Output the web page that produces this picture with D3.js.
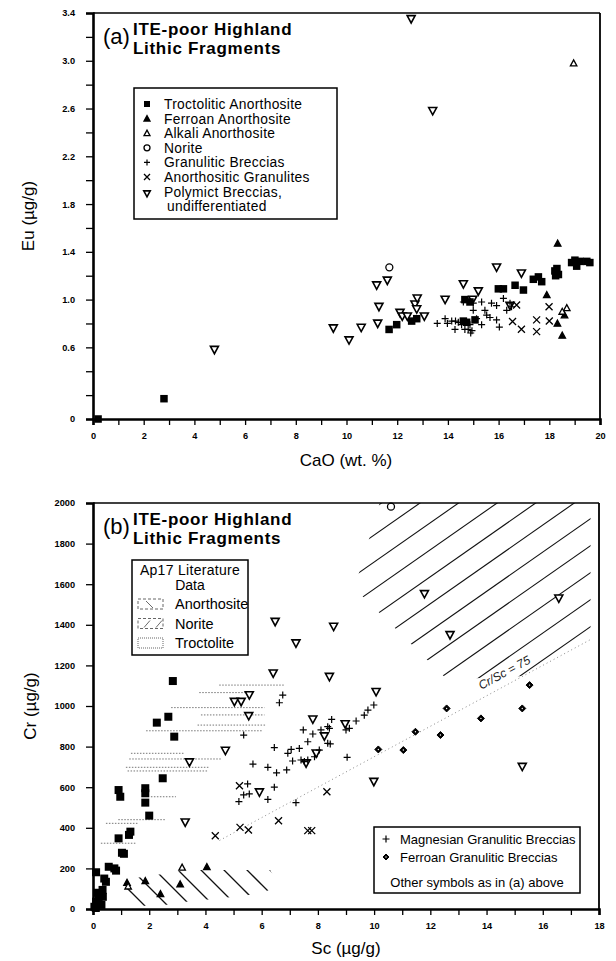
<!DOCTYPE html>
<html><head><meta charset="utf-8">
<script src="https://cdn.jsdelivr.net/npm/d3@7"></script>
<style>body{margin:0;background:#fff}</style>
</head><body>
<script>
// ---------------- Panel (a): CaO (wt.%) vs Eu (ug/g) ----------------
const aTroct = [[0.2,0.0],[2.8,0.17],[11.68,0.75],[11.98,0.79],[12.57,0.82],[12.77,0.84],[14.67,1.0],[14.87,0.98],[14.61,0.82],[14.74,0.81],[15.07,0.83],[15.99,1.09],[16.19,1.09],[16.65,1.12],[16.98,1.08],[17.37,1.17],[17.57,1.19],[17.7,1.15],[18.22,1.24],[18.36,1.21],[18.3,1.26],[18.25,1.20],[18.88,1.31],[19.08,1.28],[19.21,1.32],[19.48,1.32],[19.6,1.31],[19.01,1.33]];
const aFerroan = [[18.33,1.47],[17.9,1.04],[18.32,0.80],[18.51,0.70],[18.6,0.87]];
const aAlkali = [[18.96,2.98],[18.69,0.93],[18.51,0.90]];
const aNorite = [[11.69,1.27]];
const aGranBx = [[13.58,0.80],[13.89,0.84],[13.98,0.80],[14.15,0.82],[14.28,0.75],[14.41,0.81],[14.54,0.79],[14.67,0.75],[14.8,0.75],[14.87,0.79],[14.61,0.98],[15.0,0.97],[15.0,0.91],[15.33,0.98],[15.46,0.91],[15.53,0.87],[15.33,0.79],[15.66,0.85],[15.72,0.97],[15.92,0.95],[15.92,0.83],[16.03,0.77],[16.19,1.01],[16.32,0.91],[16.45,0.97],[16.51,0.94],[15.13,0.84],[14.9,0.72],[14.95,0.74],[14.3,0.82]];
const aAnorGran = [[16.71,0.955],[16.55,0.816],[16.9,0.752],[17.5,0.83],[17.5,0.732],[17.99,0.94],[18.0,0.82]];
const aPolymict = [[4.79,0.58],[9.48,0.76],[10.1,0.66],[10.58,0.765],[11.23,0.80],[11.28,0.94],[11.19,1.12],[11.61,1.16],[12.11,0.89],[12.2,0.86],[12.4,0.86],[12.7,0.96],[12.79,1.01],[12.77,0.92],[13.07,0.86],[13.89,1.0],[14.61,1.13],[14.98,1.0],[15.2,1.07],[15.92,1.27],[16.9,1.22],[12.55,3.35],[13.4,2.58],[16.45,0.95]];
const aXTicks = d3.range(0, 21, 1);
const aXLabels = [0,2,4,6,8,10,12,14,16,18,20];
const aYTicks = d3.range(0, 3.41, 0.2);
const aYLabels = [0,0.6,1.0,1.4,1.8,2.2,2.6,3.0,3.4];
const aLegend = ["Troctolitic Anorthosite","Ferroan Anorthosite","Alkali Anorthosite","Norite","Granulitic Breccias","Anorthositic Granulites","Polymict Breccias,","undifferentiated"];

// ---------------- Panel (b): Sc (ug/g) vs Cr (ug/g) ----------------
const bTroct = [[2.84,1123],[2.68,947],[2.27,918],[2.89,849],[2.48,644],[1.86,595],[1.86,570],[1.86,524],[2.0,460],[0.91,586],[0.97,553],[1.33,381],[1.28,365],[0.91,348],[1.03,277],[1.1,272],[0.56,208],[0.76,200],[0.82,189],[0.11,181],[0.46,134],[0.4,150],[0.34,94],[0.23,69],[0.11,36],[0.05,11],[0.35,60],[0.17,80],[0.1,5],[0.3,20],[0.2,45]];
const bFerroan = [[4.05,208],[1.21,130],[1.86,139],[2.4,74],[3.1,123]];
const bAlkali = [[1.25,112],[3.17,205]];
const bNorite = [[10.6,1982]];
const bPolymict = [[6.41,1161],[8.41,1144],[5.56,1054],[5.03,1021],[5.27,1021],[5.54,951],[7.82,934],[8.97,911],[4.71,780],[3.43,723],[5.92,575],[3.28,427],[7.58,718],[7.94,767],[8.23,851],[9.99,627],[15.27,701],[8.56,1391],[10.07,1070],[11.79,1552],[12.7,1350],[16.57,1530],[6.48,1415],[7.22,1309]];
const bMagGran = [[6.75,1054],[6.63,1016],[5.36,857],[6.45,795],[7.05,786],[7.34,791],[6.93,767],[5.69,714],[6.22,698],[6.53,671],[6.89,685],[7.1,729],[7.4,734],[7.64,734],[7.48,882],[7.64,824],[7.82,862],[8.11,882],[8.35,898],[8.49,934],[8.44,813],[8.05,783],[7.88,750],[5.5,616],[5.36,562],[5.56,567],[5.19,529],[6.45,600],[6.22,540],[7.22,524],[9.04,747],[9.36,926],[9.0,882],[8.41,890],[9.12,890],[9.65,955],[9.78,980],[9.99,1005],[7.52,726],[8.35,816]];
const bFerGran = [[12.58,988],[15.27,988],[13.8,939],[11.47,873],[12.36,857],[10.15,786],[11.04,783],[15.53,1103]];
const bAnorGran = [[5.21,607],[4.35,361],[5.23,402],[5.53,389],[6.6,435],[7.64,386],[7.78,386],[8.32,578]];
// literature fields
const noriteField = [[9.3,1580],[10.2,2000],[17.7,2000],[17.7,1270],[15.8,1150],[12.6,1130]];
const anorthField = [[1.0,70],[1.4,150],[2.6,175],[3.3,192],[6.3,192],[6.6,115],[6.0,78],[4.5,52],[3.5,40],[2.5,18],[1.6,15]];
const troctLines = [[4.49,6.81,1103],[3.78,5.56,1066],[2.78,6.1,992],[3.84,6.1,956],[3.72,6.16,906],[1.89,6.04,878],[1.35,3.25,767],[1.29,4.56,739],[1.17,4.14,698],[1.23,4.08,680],[2.06,2.95,553],[0.9,2.6,440],[0.46,1.59,422],[0.28,1.53,324]];
const crScRatio = 75;
const ratioRange = [4.5, 17.7];
const bXTicks = d3.range(0, 19, 1);
const bXLabels = [0,2,4,6,8,10,12,14,16,18];
const bYTicks = d3.range(0, 2001, 200);

const FONT = "'Liberation Sans', Arial, Helvetica, sans-serif";
const svg = d3.select('body').append('svg').attr('width',616).attr('height',961)
  .style('font-family', FONT);

// ---------- symbol helpers ----------
function drawMarks(g, data, type, x, y, s) {
  const e = g.append('g').selectAll(null).data(data).enter();
  const cx = d => x(d[0]), cy = d => y(d[1]);
  if (type === 'sq') {
    e.append('rect').attr('x', d => cx(d)-s/2).attr('y', d => cy(d)-s/2)
      .attr('width', s).attr('height', s).attr('fill', '#000');
  } else if (type === 'tri' || type === 'otri') {
    e.append('path').attr('d', d => `M${cx(d)-s/2},${cy(d)+s*0.42}L${cx(d)+s/2},${cy(d)+s*0.42}L${cx(d)},${cy(d)-s*0.5}Z`)
      .attr('fill', type==='tri' ? '#000' : '#fff').attr('stroke', '#000').attr('stroke-width', 1.3);
  } else if (type === 'dtri') {
    e.append('path').attr('d', d => `M${cx(d)-s/2},${cy(d)-s*0.42}L${cx(d)+s/2},${cy(d)-s*0.42}L${cx(d)},${cy(d)+s*0.5}Z`)
      .attr('fill', '#fff').attr('stroke', '#000').attr('stroke-width', 1.6);
  } else if (type === 'circ') {
    e.append('circle').attr('cx', cx).attr('cy', cy).attr('r', s/2)
      .attr('fill', '#fff').attr('stroke', '#000').attr('stroke-width', 1.3);
  } else if (type === 'plus') {
    e.append('path').attr('d', d => `M${cx(d)-s/2},${cy(d)}H${cx(d)+s/2}M${cx(d)},${cy(d)-s/2}V${cy(d)+s/2}`)
      .attr('stroke', '#000').attr('stroke-width', 1.2);
  } else if (type === 'x') {
    e.append('path').attr('d', d => `M${cx(d)-s/2},${cy(d)-s/2}L${cx(d)+s/2},${cy(d)+s/2}M${cx(d)-s/2},${cy(d)+s/2}L${cx(d)+s/2},${cy(d)-s/2}`)
      .attr('stroke', '#000').attr('stroke-width', 1.3);
  } else if (type === 'dia') {
    e.append('path').attr('d', d => `M${cx(d)},${cy(d)-s/2}L${cx(d)+s/2},${cy(d)}L${cx(d)},${cy(d)+s/2}L${cx(d)-s/2},${cy(d)}Z`)
      .attr('fill', '#000').attr('stroke', '#000').attr('stroke-width', 1).attr('stroke-linejoin', 'round');
    e.append('circle').attr('cx', cx).attr('cy', cy).attr('r', 0.7).attr('fill', '#fff');
  }
}
function symAt(g, type, px, py, s) {
  drawMarks(g, [[0,0]], type, () => px, () => py, s);
}

function frame(g, x, y, xTicks, xLabels, yTicks, yLabels, fmtY) {
  const [x0, x1] = x.range(), [y0, y1] = y.range();
  g.append('line').attr('x1', x0).attr('x2', x1).attr('y1', y1).attr('y2', y1).attr('stroke', '#000').attr('stroke-width', 1.6);
  g.append('line').attr('x1', x1).attr('x2', x1).attr('y1', y1).attr('y2', y0).attr('stroke', '#000').attr('stroke-width', 1.8);
  const ax = g.append('g').attr('transform', `translate(0,${y0})`)
    .call(d3.axisBottom(x).tickValues(xTicks).tickSize(6).tickPadding(7)
      .tickFormat(d => xLabels.includes(d) ? d3.format('d')(d) : ''));
  const ay = g.append('g').attr('transform', `translate(${x0},0)`)
    .call(d3.axisLeft(y).tickValues(yTicks).tickSize(7).tickPadding(11)
      .tickFormat(d => yLabels.some(v => Math.abs(v-d) < 1e-6) ? fmtY(d) : ''));
  [ax, ay].forEach(a => {
    a.select('.domain').attr('stroke-width', 2.6);
    a.selectAll('.tick line').attr('stroke-width', 1.3);
    a.selectAll('.tick text').attr('font-family', FONT).attr('font-size', 9.2).attr('font-weight', 'bold').attr('fill', '#000');
  });
}

// title block
function title(g, letter, x0, yTop) {
  g.append('text').attr('x', x0).attr('y', yTop + 31).attr('font-size', 22).text(letter);
  g.append('text').attr('x', x0 + 30).attr('y', yTop + 22).attr('font-size', 17).attr('letter-spacing', 0.7).attr('font-weight', 'bold').text('ITE-poor Highland');
  g.append('text').attr('x', x0 + 30).attr('y', yTop + 41).attr('font-size', 17).attr('letter-spacing', 0.7).attr('font-weight', 'bold').text('Lithic Fragments');
}

// =============== PANEL (a) ===============
const xa = d3.scaleLinear().domain([0, 20]).range([93, 600]);
const ya = d3.scaleLinear().domain([0, 3.4]).range([419, 13]);
const ga = svg.append('g');
drawMarks(ga, aPolymict, 'dtri', xa, ya, 8);
drawMarks(ga, aGranBx, 'plus', xa, ya, 7);
drawMarks(ga, aAnorGran, 'x', xa, ya, 7);
drawMarks(ga, aTroct, 'sq', xa, ya, 7.5);
drawMarks(ga, aFerroan, 'tri', xa, ya, 6.5);
drawMarks(ga, aAlkali, 'otri', xa, ya, 6.5);
drawMarks(ga, aNorite, 'circ', xa, ya, 7);
frame(ga, xa, ya, aXTicks, aXLabels, aYTicks, aYLabels, d => d === 0 ? '0' : d3.format('.1f')(d));
ga.append('text').attr('x', 346).attr('y', 466).attr('text-anchor', 'middle').attr('font-size', 17).text('CaO (wt. %)');
ga.append('text').attr('transform', 'translate(34,216) rotate(-90)').attr('text-anchor', 'middle').attr('font-size', 17).text('Eu (µg/g)');
title(ga, '(a)', 103, 13);
// legend (a)
const la = ga.append('g');
la.append('rect').attr('x', 134).attr('y', 88).attr('width', 203).attr('height', 131).attr('fill', '#fff').attr('stroke', '#000').attr('stroke-width', 1.5);
const legTypes = ['sq','tri','otri','circ','plus','x','dtri'];
const legSizes = [6,6,6,6,6,6,6.5];
legTypes.forEach((t, i) => symAt(la, t, 147, 104 + i*14.6 + (i===6?2:0), legSizes[i]));
aLegend.forEach((txt, i) => {
  la.append('text').attr('x', i === 7 ? 167 : 164).attr('y', 104 + i*14.6 + 5).attr('font-size', 13.8).attr('letter-spacing', 0.3).text(txt);
});

// =============== PANEL (b) ===============
const xb = d3.scaleLinear().domain([0, 18]).range([93, 599]);
const yb = d3.scaleLinear().domain([0, 2000]).range([909, 503]);
const gb = svg.append('g');
const defs = svg.append('defs');
const polyPath = pts => 'M' + pts.map(p => `${xb(p[0])},${yb(p[1])}`).join('L') + 'Z';
defs.append('clipPath').attr('id', 'noriteClip').append('path').attr('d', polyPath(noriteField));
defs.append('clipPath').attr('id', 'anorClip').append('path').attr('d', polyPath(anorthField));
// norite hatch "/"
const nh = gb.append('g').attr('clip-path', 'url(#noriteClip)');
for (let c = 500; c < 1400; c += 27) {
  nh.append('line').attr('x1', 0).attr('y1', c).attr('x2', 616).attr('y2', c - 0.7*616)
    .attr('stroke', '#111').attr('stroke-width', 1.1);
}
// anorthosite hatch "\"
const ah = gb.append('g').attr('clip-path', 'url(#anorClip)');
for (let c = 600; c < 1000; c += 23) {
  ah.append('line').attr('x1', 0).attr('y1', c).attr('x2', 400).attr('y2', c + 400)
    .attr('stroke', '#111').attr('stroke-width', 1.3);
}
// troctolite dotted lines
gb.append('g').selectAll('line').data(troctLines).enter().append('line')
  .attr('x1', d => xb(d[0])).attr('x2', d => xb(d[1])).attr('y1', d => yb(d[2])).attr('y2', d => yb(d[2]))
  .attr('stroke', '#777').attr('stroke-width', 1).attr('stroke-dasharray', '1.5,1.5');
// Cr/Sc = 75 line
gb.append('line').attr('x1', xb(ratioRange[0])).attr('y1', yb(ratioRange[0]*crScRatio))
  .attr('x2', xb(ratioRange[1])).attr('y2', yb(ratioRange[1]*crScRatio))
  .attr('stroke', '#888').attr('stroke-width', 1).attr('stroke-dasharray', '1,3');
{
  const sc = 14.7, px = xb(sc), py = yb(sc*crScRatio) - 9;
  const ang = Math.atan2(yb(crScRatio*10) - yb(0), xb(10) - xb(0)) * 180 / Math.PI;
  gb.append('text').attr('transform', `translate(${px},${py}) rotate(${ang})`).attr('text-anchor', 'middle')
    .attr('font-size', 12).attr('font-style', 'italic').attr('fill', '#222').text('Cr/Sc = 75');
}
drawMarks(gb, bPolymict, 'dtri', xb, yb, 8);
drawMarks(gb, bMagGran, 'plus', xb, yb, 7);
drawMarks(gb, bAnorGran, 'x', xb, yb, 7);
drawMarks(gb, bTroct, 'sq', xb, yb, 8);
drawMarks(gb, bFerroan, 'tri', xb, yb, 6.5);
drawMarks(gb, bAlkali, 'otri', xb, yb, 6.5);
drawMarks(gb, bNorite, 'circ', xb, yb, 7);
drawMarks(gb, bFerGran, 'dia', xb, yb, 7);
frame(gb, xb, yb, bXTicks, bXLabels, bYTicks, bYTicks, d3.format('d'));
gb.append('text').attr('x', 346).attr('y', 954).attr('text-anchor', 'middle').attr('font-size', 17).text('Sc (µg/g)');
gb.append('text').attr('transform', 'translate(36,706) rotate(-90)').attr('text-anchor', 'middle').attr('font-size', 17).text('Cr (µg/g)');
title(gb, '(b)', 103, 503);
// legend (b) literature
const lb = gb.append('g');
lb.append('rect').attr('x', 132).attr('y', 560).attr('width', 116).attr('height', 95).attr('fill', '#fff').attr('stroke', '#000').attr('stroke-width', 1.5);
lb.append('text').attr('x', 190).attr('y', 575).attr('text-anchor', 'middle').attr('font-size', 14).attr('letter-spacing', 0.3).text('Ap17 Literature');
lb.append('text').attr('x', 190).attr('y', 590).attr('text-anchor', 'middle').attr('font-size', 14).text('Data');
const swNames = ['Anorthosite','Norite','Troctolite'];
swNames.forEach((n, i) => {
  const yy = 599 + i*19.5;
  lb.append('rect').attr('x', 138).attr('y', yy).attr('width', 25).attr('height', 10).attr('fill', 'none')
    .attr('stroke', '#555').attr('stroke-width', 0.9).attr('stroke-dasharray', i===2 ? '1,1' : '3,2');
  if (i === 0) lb.append('line').attr('x1', 146).attr('y1', yy+2).attr('x2', 153).attr('y2', yy+9).attr('stroke', '#444').attr('stroke-width', 0.8);
  if (i === 1) { [144,156].forEach(x0 => lb.append('line').attr('x1', x0).attr('y1', yy+9).attr('x2', x0+6).attr('y2', yy+2).attr('stroke', '#444').attr('stroke-width', 0.8)); }
  lb.append('text').attr('x', 175).attr('y', yy + 10).attr('font-size', 14.5).text(n);
});
// legend (b) symbols
const lb2 = gb.append('g');
lb2.append('rect').attr('x', 374).attr('y', 827).attr('width', 206).attr('height', 66).attr('fill', '#fff').attr('stroke', '#000').attr('stroke-width', 1.5);
symAt(lb2, 'plus', 386, 839, 7);
symAt(lb2, 'dia', 386, 857, 6);
lb2.append('text').attr('x', 400).attr('y', 844).attr('font-size', 13).text('Magnesian Granulitic Breccias');
lb2.append('text').attr('x', 400).attr('y', 862).attr('font-size', 13).text('Ferroan Granulitic Breccias');
lb2.append('text').attr('x', 477).attr('y', 887).attr('text-anchor', 'middle').attr('font-size', 13).text('Other symbols as in (a) above');
</script>
</body></html>
